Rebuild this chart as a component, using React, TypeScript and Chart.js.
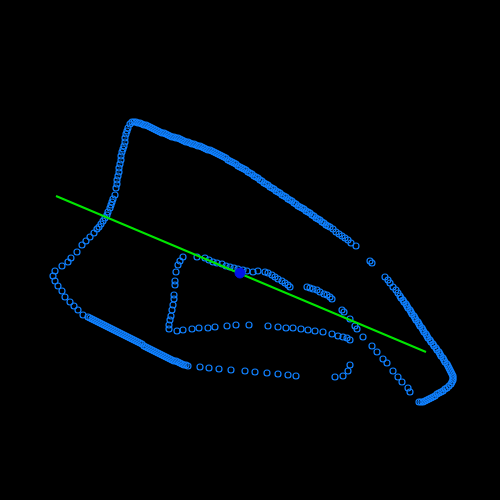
import React, { useEffect, useRef } from "react";
import { Chart, registerables } from "chart.js";

Chart.register(...registerables);

// Trajectory samples (x, y) in plot units; y axis grows downward
const topEdge: [number, number][] = [
  [128,128],[130,124],[132,122],[134,122],[136,122],[138,123],[140,123],[142,124],[144,125],[146,125],
  [148,126],[150,127],[152,128],[154,129],[156,130],[158,131],[160,132],[162,133],[164,133],[166,134],
  [168,135],[170,136],[172,137],[174,137],[176,138],[178,138],[180,139],[182,140],[184,141],[186,142],
  [188,142],[190,143],[192,144],[194,144],[196,145],[198,146],[200,146],[202,147],[204,148],[206,149],
  [208,150],[210,150],[212,151],[214,152],[216,153],[218,154],[220,155],[222,156],[224,157],[226,158],
  [228,160],[230,161],[232,162],[234,163],[236,164],[238,166],[240,167],[242,168],[244,169],[246,170],
  [248,172],[250,173],[252,174],[254,176],[256,177],[258,178],[260,180],[262,181],[264,183],[266,184],
  [268,185],[270,187],[272,188],[274,189],[276,191],[278,192],[280,193],[282,195],[284,196],[286,197],
  [288,199],[290,200],[292,201],[294,203],[296,204],[298,206],[300,207],[302,208],[304,209],[306,211],
  [308,212],[310,213],[312,215],[314,216],[316,218],[318,219],[320,220],[322,222],[324,223],[326,225],
  [328,226],[330,227],[333,229],[336,232],[339,234],[342,236],[345,238],[348,240],[351,243],[356,246],
  [370,261],[372,263]
];

const leftEdge: [number, number][] = [
  [127,131],[126,134],[125,138],[125,142],[124,146],[123,149],[122,152],[121,156],[121,160],[120,164],
  [119,168],[119,172],[118,176],[117,180],[117,184],[116,188],[115,195],[113,199],[112,202],[111,205],
  [110,208],[108,212],[107,215],[105,218],[103,221],[101,224],[99,227],[97,229],[94,233],[90,237],
  [86,241],[82,245],[77,252],[71,258],[68,262],[62,266],[55,271],[53,276],[55,281],[58,286],
  [62,291],[65,297],[70,302],[74,306],[78,310],[83,315],[88,317],[90,318],[92,319],[94,320],
  [96,321],[98,322],[100,323],[102,324],[104,325],[106,326],[108,327],[110,328],[112,329],[114,330],
  [116,331],[118,332],[120,333],[122,334],[124,335],[126,336],[128,337],[130,338],[132,339],[134,340],
  [136,341],[138,342],[140,343],[142,344],[144,346],[146,347],[148,348],[150,349],[152,350],[154,351],
  [156,352],[158,353],[160,354],[162,355],[164,356],[166,357],[168,358],[170,359],[172,360],[174,361],
  [176,361],[178,362],[180,363],[182,364],[184,365],[186,365],[188,366]
];

const bottomRow: [number, number][] = [
  [200,367],[209,368],[219,369],[231,370],[245,371],[255,372],[267,373],[278,374],[288,375],[296,376],
  [335,377],[343,376],[348,371],[350,365]
];

const rightEdge: [number, number][] = [
  [385,277],[388,280],[390,283],[393,287],[396,290],[398,293],[400,296],[401,298],[403,300],[404,302],
  [406,304],[407,306],[408,308],[410,310],[411,312],[412,314],[414,316],[415,318],[416,320],[418,322],
  [419,324],[420,326],[422,328],[423,330],[424,332],[426,334],[427,336],[428,338],[430,340],[431,342],
  [433,344],[434,346],[436,348],[437,350],[439,352],[440,354],[441,356],[443,358],[444,360],[445,362],
  [447,364],[448,366],[449,368],[450,370],[451,372],[452,374],[453,376],[453,378],[453,380],[452,382],
  [451,384],[449,386],[447,388],[445,389],[443,391],[441,392],[439,393],[437,394],[435,396],[433,397],
  [431,398],[429,399],[427,400],[425,401],[423,402],[421,402],[419,402]
];

const innerDescent: [number, number][] = [
  [342,310],[344,312],[350,319],[355,326],[357,329],[363,337],[372,346],[377,352],[383,359],[387,363],
  [393,371],[398,377],[402,382],[408,388],[410,392]
];

const innerLoop: [number, number][] = [
  [183,257],[180,261],[178,265],[176,272],[175,281],[175,285],[174,295],[174,299],[173,305],[172,310],
  [171,316],[170,320],[169,325],[169,329],[177,331],[183,330],[192,329],[199,328],[208,328],[215,327],
  [227,326],[236,325],[249,325],[268,326],[278,327],[286,328],[293,328],[301,329],[308,330],[315,331],
  [323,332],[332,334],[338,336],[343,337],[347,338],[350,340]
];

const innerUpper: [number, number][] = [
  [197,257],[205,258],[209,260],[213,262],[217,263],[222,264],[226,266],[230,267],[234,268],[238,269],
  [243,270],[247,271],[253,272],[258,271],[265,272],[268,273],[272,275],[275,277],[278,279],[282,281],
  [285,283],[288,285],[290,287],[307,287],[310,288],[313,289],[317,290],[320,292],[324,294],[327,295],
  [330,297],[332,299]
];

const fitLineX = [56, 426];
const fitLineY = [196, 352];

const markerX = [240];
const markerY = [273];

const toPoints = (arr: [number, number][]) => arr.map(([x, y]) => ({ x, y }));

export default function App() {
  const ref = useRef<HTMLCanvasElement | null>(null);
  useEffect(() => {
    document.body.style.margin = "0";
    document.body.style.background = "#000";
    const all = [...topEdge, ...leftEdge, ...bottomRow, ...rightEdge, ...innerDescent, ...innerLoop, ...innerUpper];
    const chart = new Chart(ref.current as HTMLCanvasElement, {
      type: "scatter",
      data: {
        datasets: [
          {
            data: markerX.map((x, i) => ({ x, y: markerY[i] })),
            pointRadius: 5,
            backgroundColor: "rgb(0,20,230)",
            borderColor: "rgb(0,20,230)",
            borderWidth: 1,
            order: 0,
          },
          {
            type: "line",
            data: fitLineX.map((x, i) => ({ x, y: fitLineY[i] })),
            borderColor: "rgb(0,230,0)",
            borderWidth: 2,
            pointRadius: 0,
            fill: false,
            order: 1,
          } as any,
          {
            data: toPoints(all),
            pointRadius: 3,
            pointStyle: "circle",
            backgroundColor: "rgba(0,0,0,0)",
            borderColor: "rgb(16,128,255)",
            borderWidth: 1.2,
            order: 2,
          },
        ],
      },
      options: {
        animation: false,
        responsive: false,
        maintainAspectRatio: false,
        layout: { padding: 0, autoPadding: false },
        plugins: { legend: { display: false }, tooltip: { enabled: false } },
        scales: {
          x: { type: "linear", min: 0, max: 500, display: false },
          y: { type: "linear", min: 0, max: 500, reverse: true, display: false },
        },
      },
    });
    return () => chart.destroy();
  }, []);
  return (
    <div style={{ position: "fixed", left: 0, top: 0, width: 500, height: 500, background: "#000" }}>
      <canvas ref={ref} width={500} height={500} style={{ display: "block" }} />
    </div>
  );
}
